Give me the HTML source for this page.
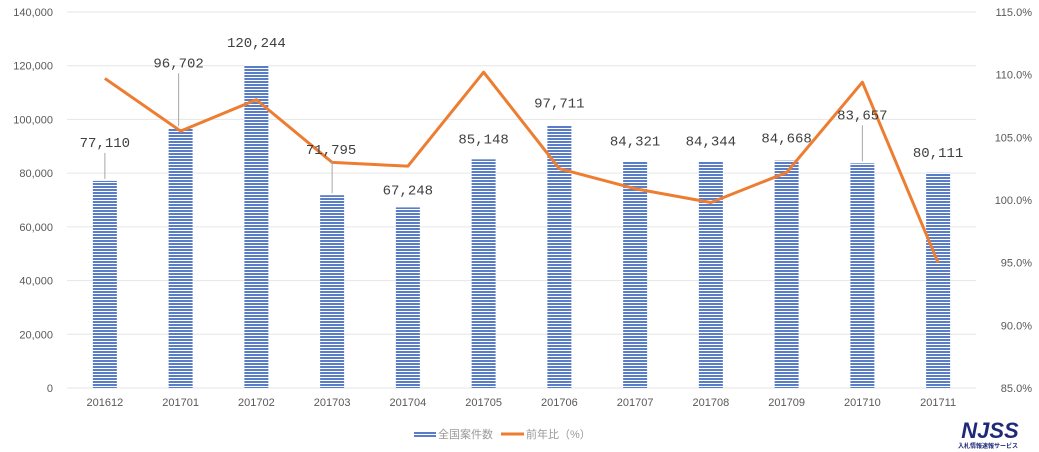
<!DOCTYPE html>
<html><head><meta charset="utf-8"><style>
body{margin:0;background:#fff;}
svg{display:block;font-family:"Liberation Sans","Noto Sans CJK JP",sans-serif;}
</style></head><body>
<svg id="chart" width="1039" height="452" viewBox="0 0 1039 452">
<defs><pattern id="stripe" width="4" height="3" patternUnits="userSpaceOnUse"><rect width="4" height="3" fill="#fff"/><rect width="4" height="2" fill="#5a7dc8"/></pattern></defs>
<g id="grid"></g><g id="bars"></g><g id="line"></g><g id="labels"></g><g id="axes"></g>
<g>
<rect x="414" y="431" width="22" height="7" fill="url(#stripe)"/>
<text x="438" y="438" font-size="11" fill="#999">全国案件数</text>
<line x1="501" y1="434" x2="524" y2="434" stroke="#ed7d31" stroke-width="3"/>
<text x="526" y="438" font-size="11" fill="#999">前年比（%）</text>
</g>
<g>
<text x="990" y="438" text-anchor="middle" font-size="22" font-weight="bold" font-style="italic" fill="#1e2a78">NJSS</text>
<text x="988" y="448" text-anchor="middle" font-size="6" font-weight="bold" fill="#1e2a78">入札情報速報サービス</text>
</g>
</svg>
<script>
const categories=["201612","201701","201702","201703","201704","201705","201706","201707","201708","201709","201710","201711"];
const counts=[77110,96702,120244,71795,67248,85148,97711,84321,84344,84668,83657,80111];
const ratios=[109.7,105.5,108.0,103.0,102.7,110.2,102.5,100.9,99.8,102.2,109.4,95.0];
const leftTicks=[0,20000,40000,60000,80000,100000,120000,140000];
const rightTicks=[85,90,95,100,105,110,115];
const NS="http://www.w3.org/2000/svg";
const L=67,R=976,T=12,B=388;
const step=(R-L)/categories.length;
const x=i=>L+step*(i+0.5);
const yL=v=>B-(v/140000)*(B-T);
const yR=v=>B-((v-85)/30)*(B-T);
function mk(tag,attrs,parent,txt){const e=document.createElementNS(NS,tag);for(const k in attrs)e.setAttribute(k,attrs[k]);if(txt!==undefined)e.textContent=txt;parent.appendChild(e);return e;}
const g=document.getElementById('grid'),ax=document.getElementById('axes');
leftTicks.forEach(v=>{
 const l=mk('line',{x1:L,x2:R,y1:yL(v),y2:yL(v),stroke:'#e6e6e6','stroke-width':1},g);
 
 
 const t=mk('text',{x:53,y:yL(v)+4,'text-anchor':'end','font-size':11,fill:'#595959'},ax,v.toLocaleString('en-US'));
 
 
});
rightTicks.forEach(v=>{
 const t=mk('text',{x:1032,y:yR(v)+4,'text-anchor':'end','font-size':11,fill:'#595959'},ax,v.toFixed(1)+'%');
 
 
});
const bg=document.getElementById('bars');
counts.forEach((v,i)=>{
 const r=mk('rect',{x:x(i)-12,y:yL(v),width:24,height:B-yL(v),fill:'url(#stripe)'},bg);
 
 
 const t=mk('text',{x:x(i),y:406,'text-anchor':'middle','font-size':11,fill:'#595959'},ax,categories[i]);
 
 
});
const lg=document.getElementById('line');
const p=mk('polyline',{points:ratios.map((v,i)=>x(i)+','+yR(v)).join(' '),fill:'none',stroke:'#ed7d31','stroke-width':3,'stroke-linejoin':'round'},lg);


const off=[[0,-34,1],[-2,-61,1],[0,-18,0],[-1,-41,1],[0,-13,0],[0,-16,0],[0,-18,0],[0,-16,0],[0,-16,0],[0,-18,0],[0,-44,1],[0,-16,0]];
const lb=document.getElementById('labels');
counts.forEach((v,i)=>{
 const top=yL(v),o=off[i];
 if(o[2]){const ln=mk('line',{x1:x(i)+(i==1?-2:0),x2:x(i)+(i==1?-2:0),y1:top+o[1]+6,y2:top-2,stroke:'#a6a6a6','stroke-width':1},lb);
  
  }
 const t=mk('text',{x:x(i)+o[0],y:top+o[1],'text-anchor':'middle','font-size':14,fill:'#404040','font-family':'"Liberation Mono",monospace'},lb,v.toLocaleString('en-US'));
 
 
});
</script>
</body></html>
